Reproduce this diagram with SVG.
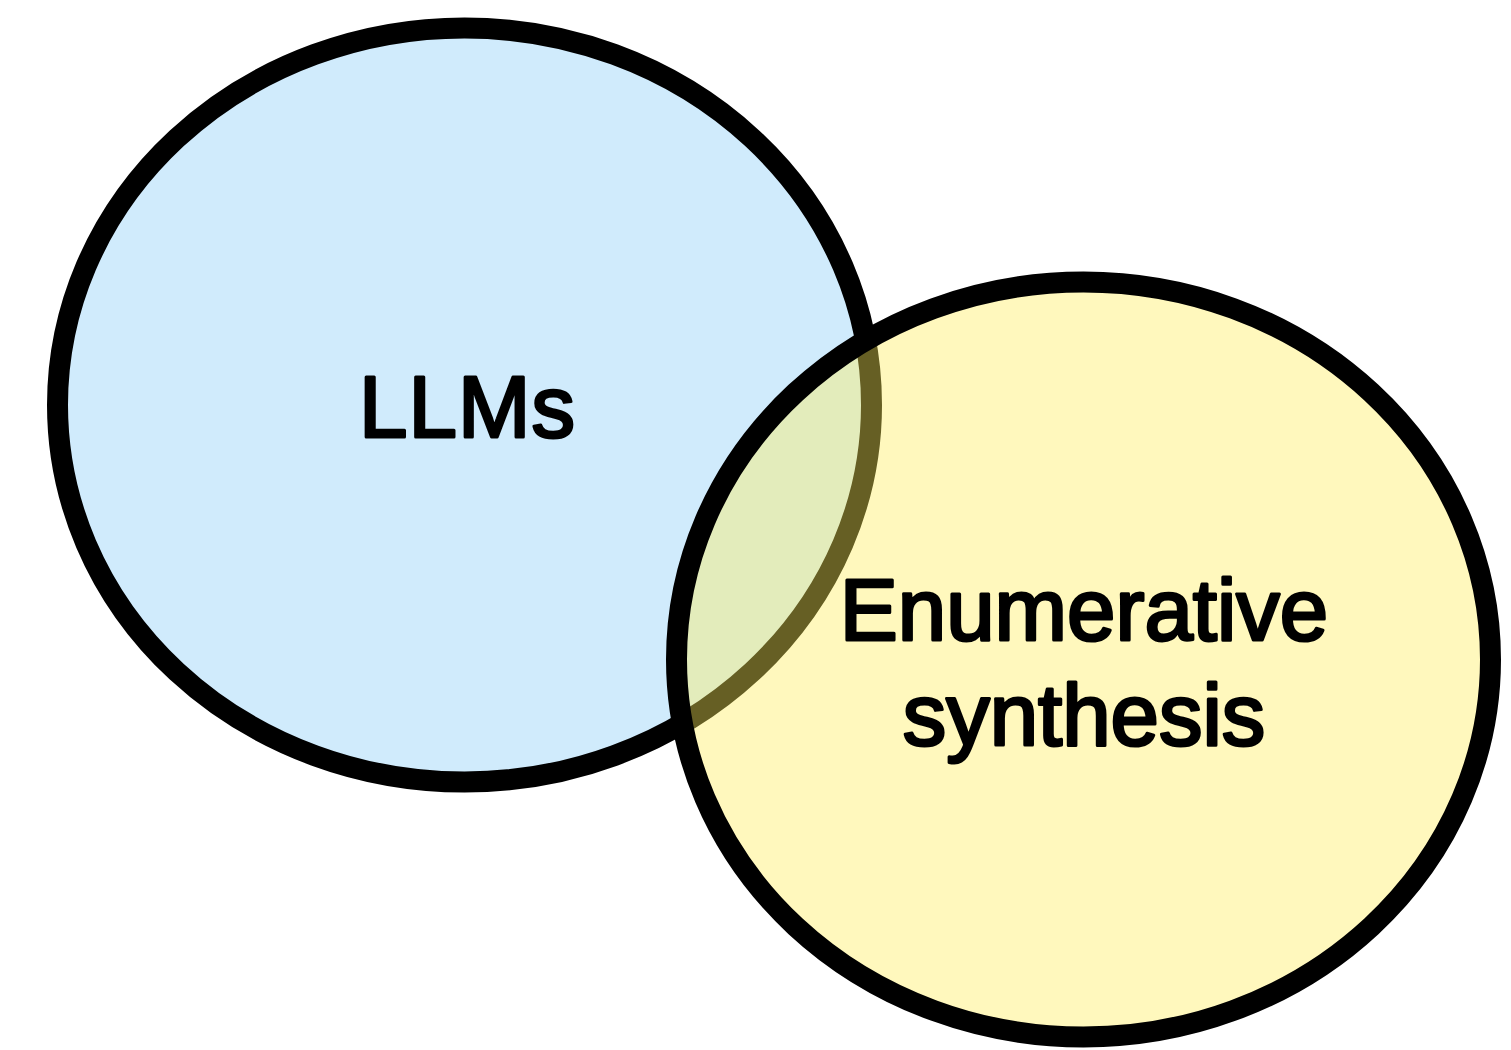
<svg xmlns="http://www.w3.org/2000/svg" width="1511" height="1050" viewBox="0 0 1511 1050">
<style>
.lbl{font-family:"Liberation Sans",Arial,sans-serif;font-size:87px;fill:#000;stroke:#000;stroke-width:3;stroke-linejoin:round;text-anchor:middle}
.ring{stroke:#000;stroke-width:21}
</style>
<rect width="1511" height="1050" fill="#fff"/>
<g id="llms">
<ellipse class="ring" cx="464.5" cy="405" rx="407" ry="377" fill="#d0ebfc"/>
<text class="lbl" x="467" y="437" textLength="216" lengthAdjust="spacing">LLMs</text>
</g>
<g id="enumerative">
<ellipse class="ring" cx="1083.5" cy="659.5" rx="407" ry="377.5" fill="#ffed5b" fill-opacity="0.4"/>
<text class="lbl" x="1084" y="640">Enumerative</text>
<text class="lbl" x="1084" y="745">synthesis</text>
</g>
<g id="connectors"/>
</svg>
